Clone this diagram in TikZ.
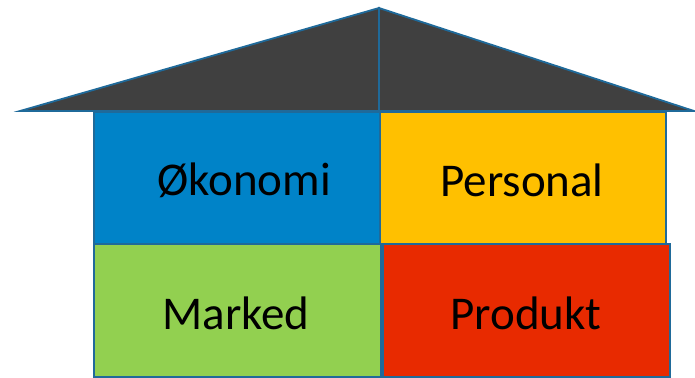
\documentclass[tikz,border=0pt]{standalone}
\usepackage{fontspec}
\setmainfont{Carlito}
\definecolor{edge}{HTML}{1F6A9A}
\definecolor{roof}{HTML}{404040}
\definecolor{cblue}{HTML}{0083C8}
\definecolor{cyellow}{HTML}{FFC000}
\definecolor{cgreen}{HTML}{92D050}
\definecolor{cred}{HTML}{E82A00}
\tikzset{
  room/.style={draw=edge, line width=1.8pt, anchor=north west, inner sep=0pt},
  label/.style={font=\fontsize{47}{56}\selectfont, text=black},
  roofpart/.style={fill=roof, draw=edge, line width=1.8pt, line join=miter}
}
\begin{document}
\begin{tikzpicture}[x=1pt,y=1pt]
\useasboundingbox (0,0) rectangle (695,377);
\coordinate (apex) at (379,369);
\coordinate (lt) at (20,266);
\coordinate (rt) at (694,266);
\coordinate (mid) at (379,266);
\draw[roofpart] (lt) -- (apex) -- (mid) -- cycle;
\draw[roofpart] (mid) -- (apex) -- (rt) -- cycle;
\node[room, fill=cblue, minimum width=286pt, minimum height=132pt] (oko) at (93,266) {};
\node[room, fill=cyellow, minimum width=286pt, minimum height=132pt] (per) at (379,266) {};
\node[room, fill=cgreen, minimum width=287pt, minimum height=133pt] (mar) at (93,134) {};
\node[room, fill=cred, minimum width=287pt, minimum height=133pt] (pro) at (382,134) {};
\node[label] (tOko) at (244,197) {Økonomi};
\node[label] (tPer) at (522,197) {Personal};
\node[label] (tMar) at (236,64) {Marked};
\node[label] (tPro) at (526,64) {Produkt};
\end{tikzpicture}
\end{document}
